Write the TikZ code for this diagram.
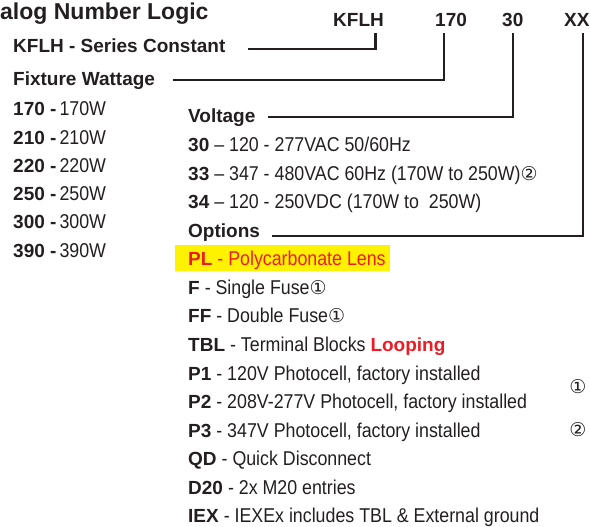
\documentclass[tikz,border=0pt]{standalone}
\usepackage{fontspec}
\setmainfont{Liberation Sans}
\newfontfamily\lightfont[FakeStretch=0.89]{Liberation Sans}
\newfontfamily\circfont{DejaVu Sans}
\usetikzlibrary{positioning}
\definecolor{ink}{RGB}{35,31,32}
\definecolor{optred}{RGB}{237,28,36}
\definecolor{hilite}{RGB}{255,242,0}
\newcommand{\code}[1]{{\normalfont\fontsize{19}{19}\selectfont\bfseries #1}}
\newcommand{\cone}{{\circfont\fontsize{19}{19}\selectfont ①}}
\newcommand{\ctwo}{{\circfont\fontsize{19}{19}\selectfont ②}}
\tikzset{
  txt/.style={
    anchor = base west,
    inner sep = 0pt,
    text = ink,
    font = \fontsize{20}{20}\selectfont\lightfont
  },
  head/.style={
    anchor = base west,
    inner sep = 0pt,
    text = ink,
    font = \fontsize{19}{19}\selectfont\bfseries
  },
  title/.style={
    head,
    font = \fontsize{23}{23}\selectfont\bfseries
  },
  link/.style={
    draw = ink,
    line width = 2.2pt
  },
  note/.style={
    inner sep = 0pt,
    text = ink
  },
}

\begin{document}
\begin{tikzpicture}[x=1pt,y=-1pt]
\useasboundingbox (0,0) rectangle (590,527);
\node[title] (title) at (0,20) {alog Number Logic};
\node[head] (kflh) at (13,53) {KFLH - Series Constant};
\node[head] (watt) at (13,86) {Fixture Wattage};
\node[head] (hKFLH) at (333,27) {KFLH};
\node[head] (h170) at (435,27) {170};
\node[head] (h30) at (502,27) {30};
\node[head] (hXX) at (564,27) {XX};
		  \foreach \w [count=\i from 0] in {170,210,220,250,300,390}{
		    \node[txt] (w\w) at (13,116+28.2*\i) {\code{\w\ -}\hspace{3pt}\w W}; }
\fill[hilite] (175,245) rectangle (390,271);
		  \foreach \row [count=\i from 0] in {
		    {\code{Voltage}},
		    {\code{30} – 120 - 277VAC 50/60Hz},
		    {\code{33} – 347 - 480VAC 60Hz (170W to 250W)\ctwo},
		    {\code{34} – 120 - 250VDC (170W to\ \ 250W)},
		    {\code{Options}},
		    {\color{optred}\code{PL} - Polycarbonate Lens},
		    {\code{F} - Single Fuse\cone},
		    {\code{FF} - Double Fuse\cone},
		    {\code{TBL} - Terminal Blocks \textcolor{optred}{\code{Looping}}},
		    {\code{P1} - 120V Photocell, factory installed},
		    {\code{P2} - 208V-277V Photocell, factory installed},
		    {\code{P3} - 347V Photocell, factory installed},
		    {\code{QD} - Quick Disconnect},
		    {\code{D20} - 2x M20 entries},
		    {\code{IEX} - IEXEx includes TBL \& External ground}}{
		    \node[txt] (r\i) at (188,123+28.57*\i) {\row}; }
\node[note] (n1) at (578,387) {\cone};
\node[note] (n2) at (578,430) {\ctwo};
\coordinate (sKFLH) at (248,49);
\coordinate (sWatt) at (173,80);
\coordinate (sVolt) at (268,117);
\coordinate (sOpt) at (272,236);
\draw[link] (sKFLH) -| ([shift={(17,6)}]hKFLH.base);
\draw[link] (sWatt) -| ([shift={(-7,6)}]h170.base);
\draw[link] (sVolt) -| ([shift={(0,6)}]h30.base);
\draw[link] (sOpt) -| ([shift={(6,6)}]hXX.base);
\end{tikzpicture}
\end{document}
